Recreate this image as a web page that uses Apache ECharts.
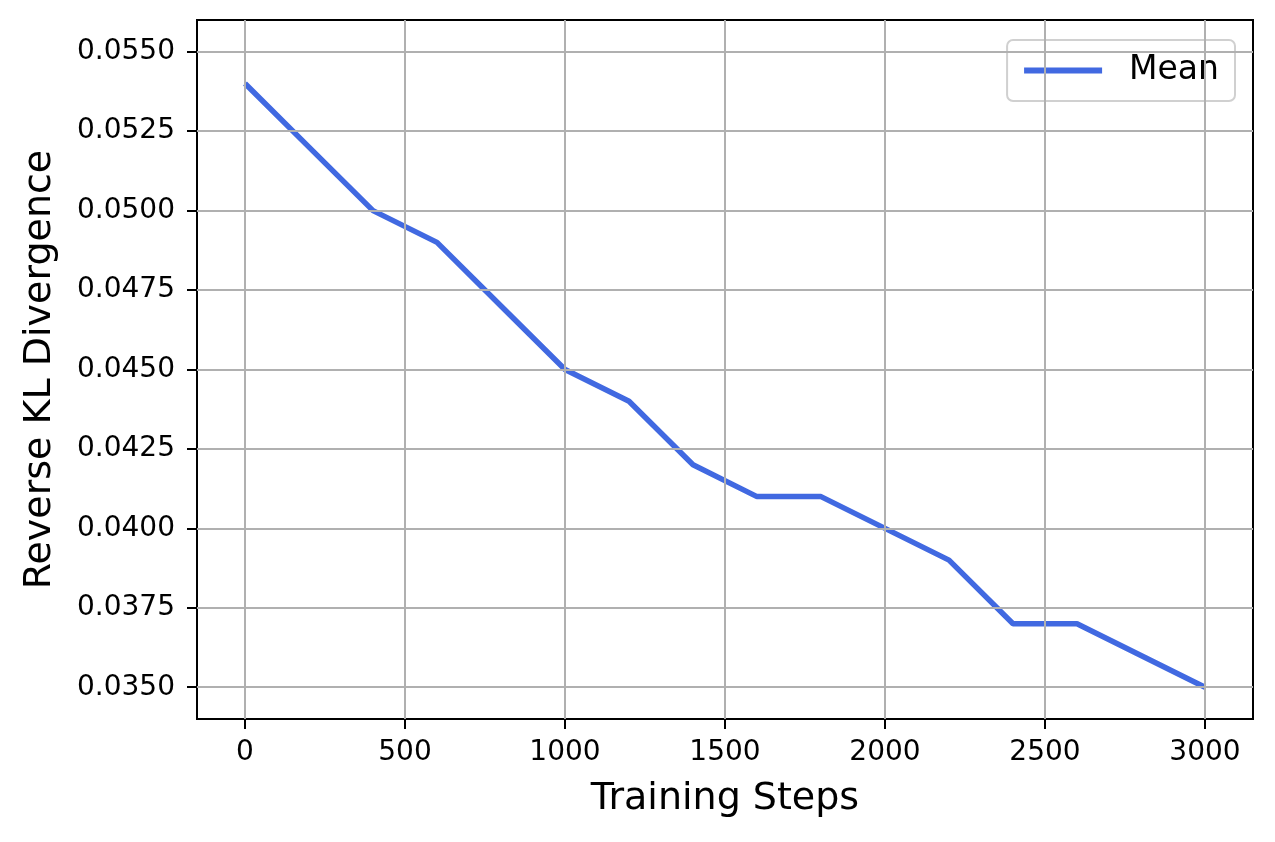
<!DOCTYPE html>
<html>
<head>
<meta charset="utf-8">
<title>Reverse KL Divergence</title>
<script src="https://cdn.jsdelivr.net/npm/echarts@6/dist/echarts.min.js"></script>
<style>
  html, body { margin: 0; padding: 0; background: #fff; }
  #chart { width: 1275px; height: 842px; }
</style>
</head>
<body>
<div id="chart"></div>
<script>
// training steps and mean reverse KL
const steps = [0, 200, 400, 600, 800, 1000, 1200, 1400, 1600, 1800, 2000, 2200, 2400, 2600, 2800, 3000];
const meanKL = [0.054, 0.052, 0.050, 0.049, 0.047, 0.045, 0.044, 0.042, 0.041, 0.041, 0.040, 0.039, 0.037, 0.037, 0.036, 0.035];
const xTicks = [0, 500, 1000, 1500, 2000, 2500, 3000];
const yTicks = [0.0350, 0.0375, 0.0400, 0.0425, 0.0450, 0.0475, 0.0500, 0.0525, 0.0550];

const FONT = 'DejaVu Sans';
const GRID_COLOR = '#b0b0b0';

let chart = echarts.init(document.getElementById('chart'));

let gridLines = [];
xTicks.forEach(v => gridLines.push({ xAxis: v }));
yTicks.forEach(v => gridLines.push({ yAxis: v }));

chart.setOption({
    animation: false,
    backgroundColor: '#fff',
    textStyle: { fontFamily: FONT },
    grid: {
        left: 197, right: 22, top: 20, bottom: 123,
        show: true, borderColor: '#000', borderWidth: 2, backgroundColor: 'transparent'
    },
    legend: {
        data: ['Mean'],
        right: 40, top: 40,
        icon: 'rect',
        itemWidth: 78, itemHeight: 6,
        padding: [14, 16, 14, 17],
        borderColor: '#d0d0d0', borderWidth: 2, borderRadius: 6,
        backgroundColor: 'rgba(255,255,255,0.8)',
        textStyle: { fontFamily: FONT, fontSize: 33, color: '#000', padding: [0, 0, 0, 22] }
    },
    xAxis: {
        type: 'value',
        min: -150, max: 3150,
        name: 'Training Steps',
        nameLocation: 'middle',
        nameGap: 61,
        nameTextStyle: { fontFamily: FONT, fontSize: 38, color: '#000' },
        axisLine: { show: false, onZero: false },
        splitLine: { show: false },
        axisTick: { show: true, length: 10, customValues: xTicks, lineStyle: { color: '#000', width: 2 } },
        axisLabel: {
            customValues: xTicks, fontFamily: FONT, fontSize: 28, color: '#000', margin: 20,
            formatter: v => String(v)
        }
    },
    yAxis: {
        type: 'value',
        min: 0.034, max: 0.056,
        name: 'Reverse KL Divergence',
        nameLocation: 'middle',
        nameGap: 138,
        nameTextStyle: { fontFamily: FONT, fontSize: 38, color: '#000' },
        axisLine: { show: false, onZero: false },
        splitLine: { show: false },
        axisTick: { show: true, length: 10, customValues: yTicks, lineStyle: { color: '#000', width: 2 } },
        axisLabel: {
            customValues: yTicks, fontFamily: FONT, fontSize: 28, color: '#000', margin: 22,
            formatter: v => v.toFixed(4)
        }
    },
    series: [
        {
            // grid lines at the matplotlib tick positions
            name: 'grid',
            type: 'line',
            data: [],
            z: 1,
            silent: true,
            markLine: {
                silent: true,
                precision: 6,
                symbol: ['none', 'none'],
                label: { show: false },
                lineStyle: { color: GRID_COLOR, width: 2, type: 'solid' },
                emphasis: { disabled: true },
                data: gridLines
            }
        },
        {
            name: 'Mean',
            type: 'line',
            z: 3,
            data: steps.map((s, i) => [s, meanKL[i]]),
            showSymbol: false,
            symbol: 'none',
            color: '#4169e1',
            lineStyle: { color: '#4169e1', width: 5.5 }
        }
    ]
});
</script>
</body>
</html>
